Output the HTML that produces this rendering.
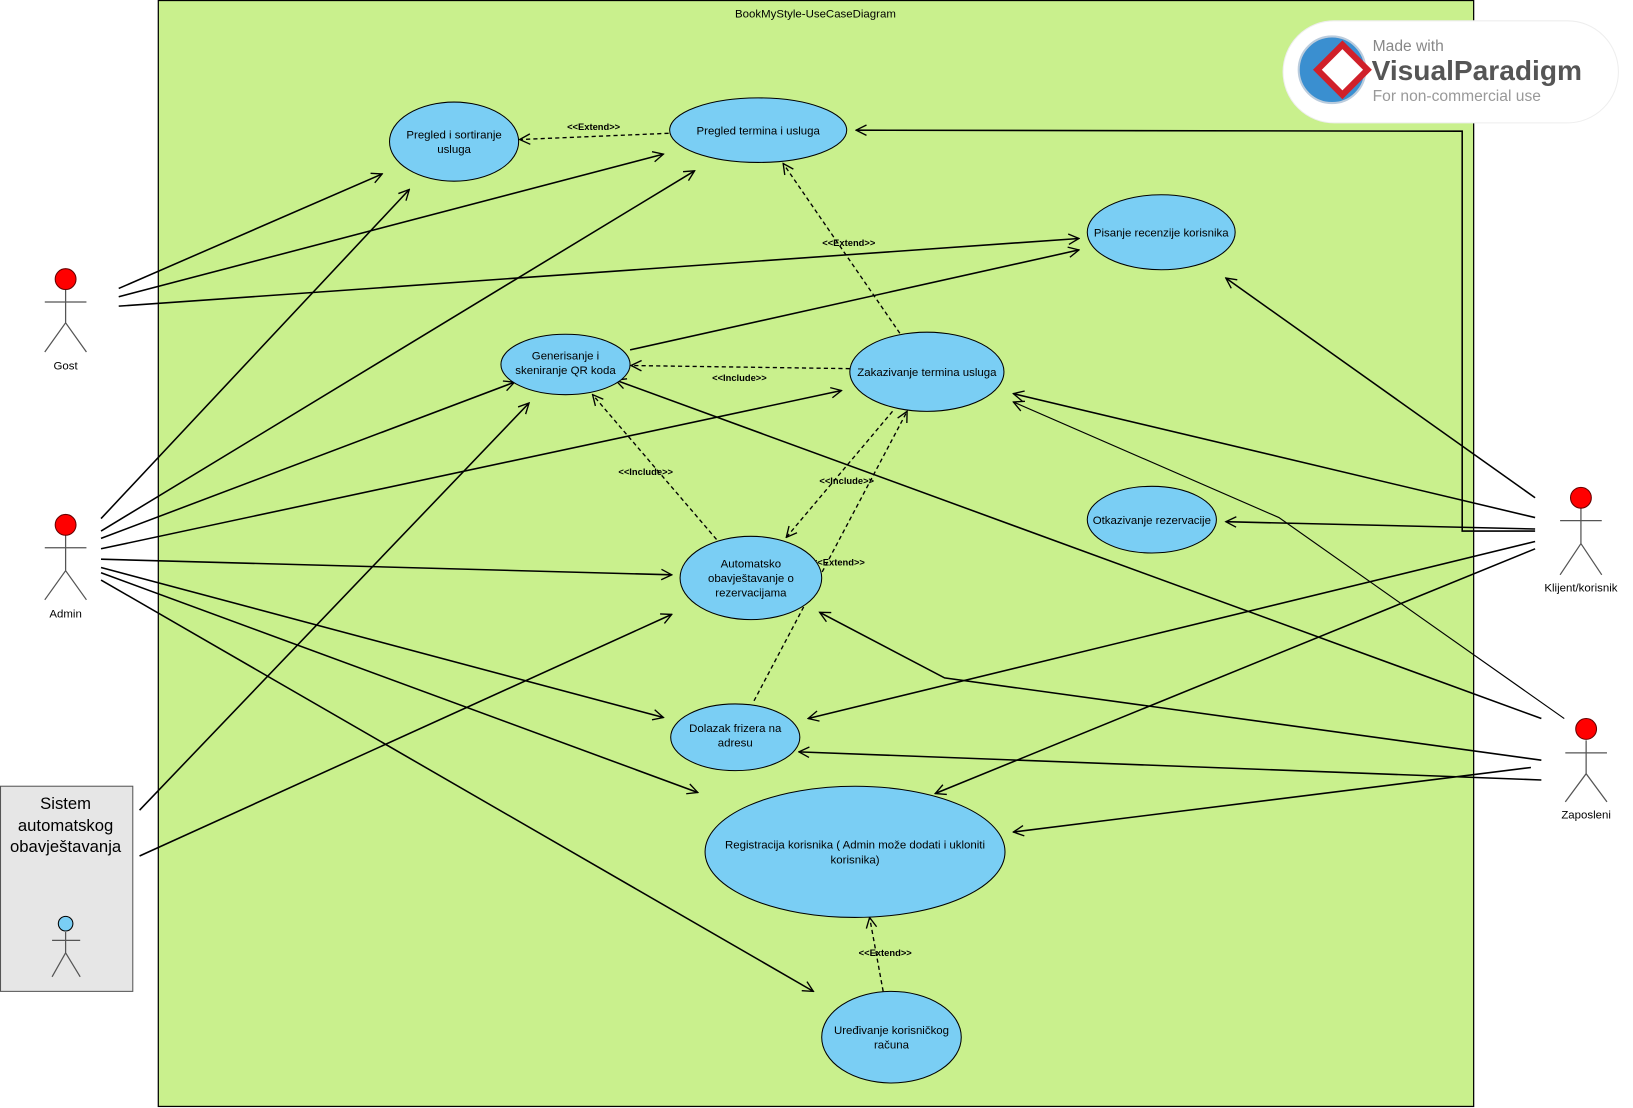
<!DOCTYPE html>
<html><head><meta charset="utf-8"><style>html,body{margin:0;padding:0;background:#fff}svg{display:block}</style></head><body>
<svg width="1633" height="1108" viewBox="0 0 1568 1064" preserveAspectRatio="none" xmlns="http://www.w3.org/2000/svg" font-family="Liberation Sans, sans-serif">
<defs>
<marker id="a" viewBox="0 0 12 12" refX="11" refY="6" markerWidth="12" markerHeight="12" markerUnits="userSpaceOnUse" orient="auto"><path d="M1,1 L11,6 L1,11" fill="none" stroke="#000" stroke-width="1.3"/></marker>
</defs>
<rect x="152" y="0.5" width="1263" height="1062" fill="#c9f08d" stroke="#000" stroke-width="1.2"/>
<text x="783" y="17" font-size="11" text-anchor="middle">BookMyStyle-UseCaseDiagram</text>
<rect x="0.5" y="755" width="127" height="197" fill="#e6e6e6" stroke="#555"/>
<text font-size="16" text-anchor="middle"><tspan x="63" y="777">Sistem</tspan><tspan x="63" y="798">automatskog</tspan><tspan x="63" y="818">obavještavanja</tspan></text>

<g stroke="#000" stroke-width="1.5" fill="none" marker-end="url(#a)">
<line x1="114" y1="277" x2="367" y2="167"/>
<line x1="114" y1="285" x2="637" y2="148"/>
<line x1="114" y1="294" x2="1036" y2="229"/>
<line x1="97" y1="498" x2="393" y2="182"/>
<line x1="97" y1="510" x2="667" y2="164"/>
<line x1="97" y1="517" x2="494" y2="367"/>
<line x1="97" y1="527" x2="808" y2="375"/>
<line x1="97" y1="537" x2="645" y2="552"/>
<line x1="97" y1="545" x2="637" y2="689"/>
<line x1="97" y1="550" x2="670" y2="761"/>
<line x1="97" y1="557" x2="781" y2="952"/>
<line x1="134" y1="778" x2="508" y2="387"/>
<line x1="134" y1="822" x2="645" y2="590"/>
<line x1="605" y1="336" x2="1036" y2="240"/>
<line x1="1474" y1="478" x2="1177" y2="267"/>
<line x1="1474" y1="497" x2="973" y2="378"/>
<line x1="1474" y1="508" x2="1177" y2="501"/>
<polyline points="1474,510 1404,510 1404,126 822,125"/>
<line x1="1474" y1="520" x2="776" y2="690"/>
<line x1="1474" y1="527" x2="898" y2="762"/>
<polyline points="1502,690 1228,497 973,386" stroke-width="1.1"/>
<line x1="1480" y1="690" x2="591" y2="365"/>
<polyline points="1480,730 907,651 787,588"/>
<line x1="1480" y1="749" x2="767" y2="722"/>
<line x1="1470" y1="737" x2="973" y2="799"/>
</g>
<g stroke="#000" stroke-width="1.3" fill="none" stroke-dasharray="4,3" marker-end="url(#a)">
<line x1="642" y1="128" x2="499" y2="134"/>
<line x1="864" y1="320" x2="752" y2="157"/>
<line x1="816" y1="354" x2="606" y2="351"/>
<line x1="688" y1="518" x2="569" y2="379"/>
<line x1="857" y1="395" x2="755" y2="516"/>
<line x1="724" y1="673" x2="871" y2="395"/>
<line x1="848" y1="952" x2="835" y2="881"/>
</g>
<g font-size="9" font-weight="bold" text-anchor="middle">
<text x="570" y="125">&lt;&lt;Extend&gt;&gt;</text>
<text x="815" y="236">&lt;&lt;Extend&gt;&gt;</text>
<text x="710" y="366">&lt;&lt;Include&gt;&gt;</text>
<text x="620" y="456">&lt;&lt;Include&gt;&gt;</text>
<text x="813" y="465">&lt;&lt;Include&gt;&gt;</text>
<text x="805" y="543">&lt;&lt;Extend&gt;&gt;</text>
<text x="850" y="918">&lt;&lt;Extend&gt;&gt;</text>
</g>
<g fill="#7acef4" stroke="#000" stroke-width="1">
<ellipse cx="436" cy="136" rx="62" ry="38"/>
<ellipse cx="728" cy="125" rx="85" ry="31"/>
<ellipse cx="1115" cy="223" rx="71" ry="36"/>
<ellipse cx="543" cy="350" rx="62" ry="29"/>
<ellipse cx="890" cy="357" rx="74" ry="38"/>
<ellipse cx="1106" cy="499" rx="62" ry="32"/>
<ellipse cx="721" cy="555" rx="68" ry="40"/>
<ellipse cx="706" cy="708" rx="62" ry="32"/>
<ellipse cx="821" cy="818" rx="144" ry="63"/>
<ellipse cx="856" cy="996" rx="67" ry="44"/>
</g>
<g font-size="11" text-anchor="middle">
<text x="436" y="133">Pregled i sortiranje</text><text x="436" y="147">usluga</text>
<text x="728" y="129">Pregled termina i usluga</text>
<text x="1115" y="227">Pisanje recenzije korisnika</text>
<text x="543" y="345">Generisanje i</text><text x="543" y="359">skeniranje QR koda</text>
<text x="890" y="361">Zakazivanje termina usluga</text>
<text x="1106" y="503">Otkazivanje rezervacije</text>
<text x="721" y="545">Automatsko</text><text x="721" y="559">obavještavanje o</text><text x="721" y="573">rezervacijama</text>
<text x="706" y="703">Dolazak frizera na</text><text x="706" y="717">adresu</text>
<text x="821" y="815">Registracija korisnika ( Admin može dodati i ukloniti</text><text x="821" y="829">korisnika)</text>
<text x="856" y="993">Uređivanje korisničkog</text><text x="856" y="1007">računa</text>
</g>
<g stroke="#555" stroke-width="1.2" fill="none">
<path d="M63,278 V310 M43,290 H83 M43,338 L63,310 L83,338"/>
<path d="M63,514 V548 M43,526 H83 M43,576 L63,548 L83,576"/>
<path d="M1518,488 V522 M1498,500 H1538 M1498,552 L1518,522 L1538,552"/>
<path d="M1523,711 V743 M1503,723 H1543 M1503,770 L1523,743 L1543,770"/>
<path d="M63,895 V915 M50,903 H77 M50,938 L63,915 L77,938"/>
</g>
<g stroke="#600" stroke-width="1">
<circle cx="63" cy="268" r="10" fill="#f00"/>
<circle cx="63" cy="504" r="10" fill="#f00"/>
<circle cx="1518" cy="478" r="10" fill="#f00"/>
<circle cx="1523" cy="700" r="10" fill="#f00"/>
<circle cx="63" cy="887" r="7" fill="#7acef4" stroke="#000"/>
</g>
<g font-size="11" text-anchor="middle">
<text x="63" y="355">Gost</text>
<text x="63" y="593">Admin</text>
<text x="1518" y="568">Klijent/korisnik</text>
<text x="1523" y="786">Zaposleni</text>
</g>
<rect x="1232" y="20" width="322" height="98" rx="49" fill="#fff" stroke="#eee"/>
<circle cx="1279" cy="67" r="32" fill="#3a8fd0" stroke="#bcd" stroke-width="2"/>
<rect x="1272" y="50" width="34" height="34" transform="rotate(45 1289 67)" fill="#fff" stroke="#d0202a" stroke-width="6"/>
<text x="1318" y="49" font-size="15" fill="#888">Made with</text>
<text x="1317" y="77" font-size="27" font-weight="bold" fill="#555">VisualParadigm</text>
<text x="1318" y="97" font-size="15" fill="#999">For non-commercial use</text>
</svg>
</body></html>
